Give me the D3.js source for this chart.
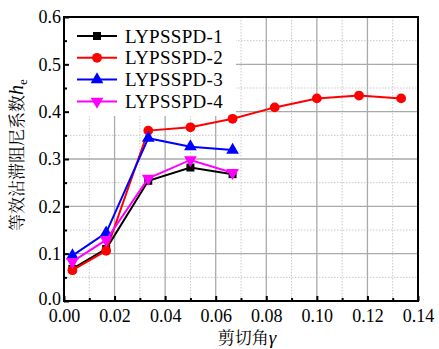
<!DOCTYPE html>
<html><head><meta charset="utf-8">
<script src="https://cdn.jsdelivr.net/npm/d3@7"></script>
<style>
body{margin:0;background:#fff}svg{display:block}
svg text{font-family:'Liberation Serif','Times New Roman',serif;fill:#000}
svg text.cjk{font-family:'Noto Serif CJK SC','Noto Sans CJK SC',serif}
svg tspan.lat{font-family:'Liberation Serif','Times New Roman',serif}
</style>
</head><body>
<svg id="c" width="439" height="349"></svg>
<script>
const xVals = [0.00333, 0.01667, 0.03333, 0.05, 0.06667, 0.08333, 0.1, 0.11667, 0.13333];
const s1 = [0.068, 0.110, 0.254, 0.282, 0.268];
const s2 = [0.065, 0.106, 0.360, 0.367, 0.385, 0.409, 0.428, 0.434, 0.428];
const s3 = [0.096, 0.144, 0.344, 0.326, 0.319];
const s4 = [0.083, 0.129, 0.259, 0.298, 0.271];
const seriesNames = ["LYPSSPD-1", "LYPSSPD-2", "LYPSSPD-3", "LYPSSPD-4"];
const colors = ["#000000", "#ff0000", "#0000ff", "#ff00ff"];
const xTicks = [0, 0.02, 0.04, 0.06, 0.08, 0.10, 0.12, 0.14];
const yTicks = [0, 0.1, 0.2, 0.3, 0.4, 0.5, 0.6];

const svg = d3.select("#c");
const L = 64, R = 418, T = 17, B = 301;
const x = d3.scaleLinear().domain([0, 0.14]).range([L, R]);
const y = d3.scaleLinear().domain([0, 0.6]).range([B, T]);

// grid
const xMinor = d3.range(0.01, 0.14, 0.02);
const yMinor = d3.range(0.05, 0.6, 0.1);
const g = svg.append("g");
g.selectAll(".xm").data(xMinor).join("line").attr("x1", d => x(d)).attr("x2", d => x(d))
  .attr("y1", T).attr("y2", B).attr("stroke", "#c8c8c8").attr("stroke-width", 1).attr("stroke-dasharray", "1.5,1.5");
g.selectAll(".ym").data(yMinor).join("line").attr("y1", d => y(d)).attr("y2", d => y(d))
  .attr("x1", L).attr("x2", R).attr("stroke", "#c8c8c8").attr("stroke-width", 1).attr("stroke-dasharray", "1.5,1.5");
g.selectAll(".xM").data(xTicks.slice(1, -1)).join("line").attr("x1", d => x(d)).attr("x2", d => x(d))
  .attr("y1", T).attr("y2", B).attr("stroke", "#aaaaaa").attr("stroke-width", 1.3);
g.selectAll(".yM").data(yTicks.slice(1, -1)).join("line").attr("y1", d => y(d)).attr("y2", d => y(d))
  .attr("x1", L).attr("x2", R).attr("stroke", "#aaaaaa").attr("stroke-width", 1.3);

// legend background
svg.append("rect").attr("x", L + 1).attr("y", T + 1).attr("width", 171).attr("height", 98).attr("fill", "#fff");

// axes
const xAxis = d3.axisBottom(x).tickValues(xTicks).tickFormat(d3.format(".2f")).tickSizeInner(-5).tickSizeOuter(0).tickPadding(8);
const yAxis = d3.axisLeft(y).tickValues(yTicks).tickFormat(d3.format(".1f")).tickSizeInner(-5).tickSizeOuter(0).tickPadding(3);
const xa = svg.append("g").attr("transform", `translate(0,${B})`).call(xAxis);
const ya = svg.append("g").attr("transform", `translate(${L},0)`).call(yAxis);
svg.append("g").attr("transform", `translate(0,${B})`)
  .call(d3.axisBottom(x).tickValues(xMinor).tickFormat("").tickSizeInner(-3).tickSizeOuter(0))
  .call(a => a.select(".domain").remove()).selectAll("line").attr("stroke-width", 2);
svg.append("g").attr("transform", `translate(${L},0)`)
  .call(d3.axisLeft(y).tickValues(yMinor).tickFormat("").tickSizeInner(-3).tickSizeOuter(0))
  .call(a => a.select(".domain").remove()).selectAll("line").attr("stroke-width", 2);
[xa, ya].forEach(a => {
  a.attr("font-family", null).attr("font-size", null);
  a.select(".domain").remove();
  a.selectAll("line").attr("stroke-width", 2);
  a.selectAll("text").style("font-size", "18px");
});
ya.selectAll("text").filter(d => d === 0).attr("dy", "0.2em");
svg.append("rect").attr("x", L).attr("y", T).attr("width", R - L).attr("height", B - T)
  .attr("fill", "none").attr("stroke", "#000").attr("stroke-width", 2);

// series
const allSeries = [s1, s2, s3, s4];
const line = d3.line().x(d => x(d[0])).y(d => y(d[1]));
const symTypes = [d3.symbolSquare, d3.symbolCircle, d3.symbolTriangle, d3.symbolTriangle];
const symSizes = [64, 75, 70, 70];
const symRot = [0, 0, 0, 180];
allSeries.forEach((s, i) => {
  const pts = s.map((v, j) => [xVals[j], v]);
  svg.append("path").datum(pts).attr("d", line).attr("fill", "none").attr("stroke", colors[i]).attr("stroke-width", 2);
  svg.append("g").selectAll("path").data(pts).join("path")
    .attr("d", d3.symbol().type(symTypes[i]).size(symSizes[i]))
    .attr("transform", d => `translate(${x(d[0])},${y(d[1])}) rotate(${symRot[i]})`)
    .attr("fill", colors[i]);
});

// legend
seriesNames.forEach((n, i) => {
  const yy = 36 + i * 21.8;
  svg.append("line").attr("x1", 77).attr("x2", 117).attr("y1", yy).attr("y2", yy).attr("stroke", colors[i]).attr("stroke-width", 2);
  svg.append("path").attr("d", d3.symbol().type(symTypes[i]).size(symSizes[i]))
    .attr("transform", `translate(97,${yy}) rotate(${symRot[i]})`).attr("fill", colors[i]);
  svg.append("text").attr("x", 125).attr("y", yy + 6.5).style("font-size", "19px").style("letter-spacing", "0.3px").text(n);
});

// axis titles
const xt = svg.append("text").attr("class", "cjk").attr("x", 247).attr("y", 344).attr("text-anchor", "middle")
  .style("font-size", "17px");
xt.append("tspan").text("剪切角");
xt.append("tspan").attr("class", "lat").style("font-style", "italic").style("font-size", "19px").text("γ");
const yt = svg.append("text").attr("class", "cjk").attr("transform", "translate(23,155) rotate(-90)").attr("text-anchor", "middle")
  .style("font-size", "17px");
yt.append("tspan").text("等效沾滞阻尼系数");
yt.append("tspan").attr("class", "lat").style("font-style", "italic").style("font-size", "20px").text("h");
yt.append("tspan").attr("class", "lat").style("font-size", "13px").attr("dy", 4).text("e");
</script>
</body></html>
